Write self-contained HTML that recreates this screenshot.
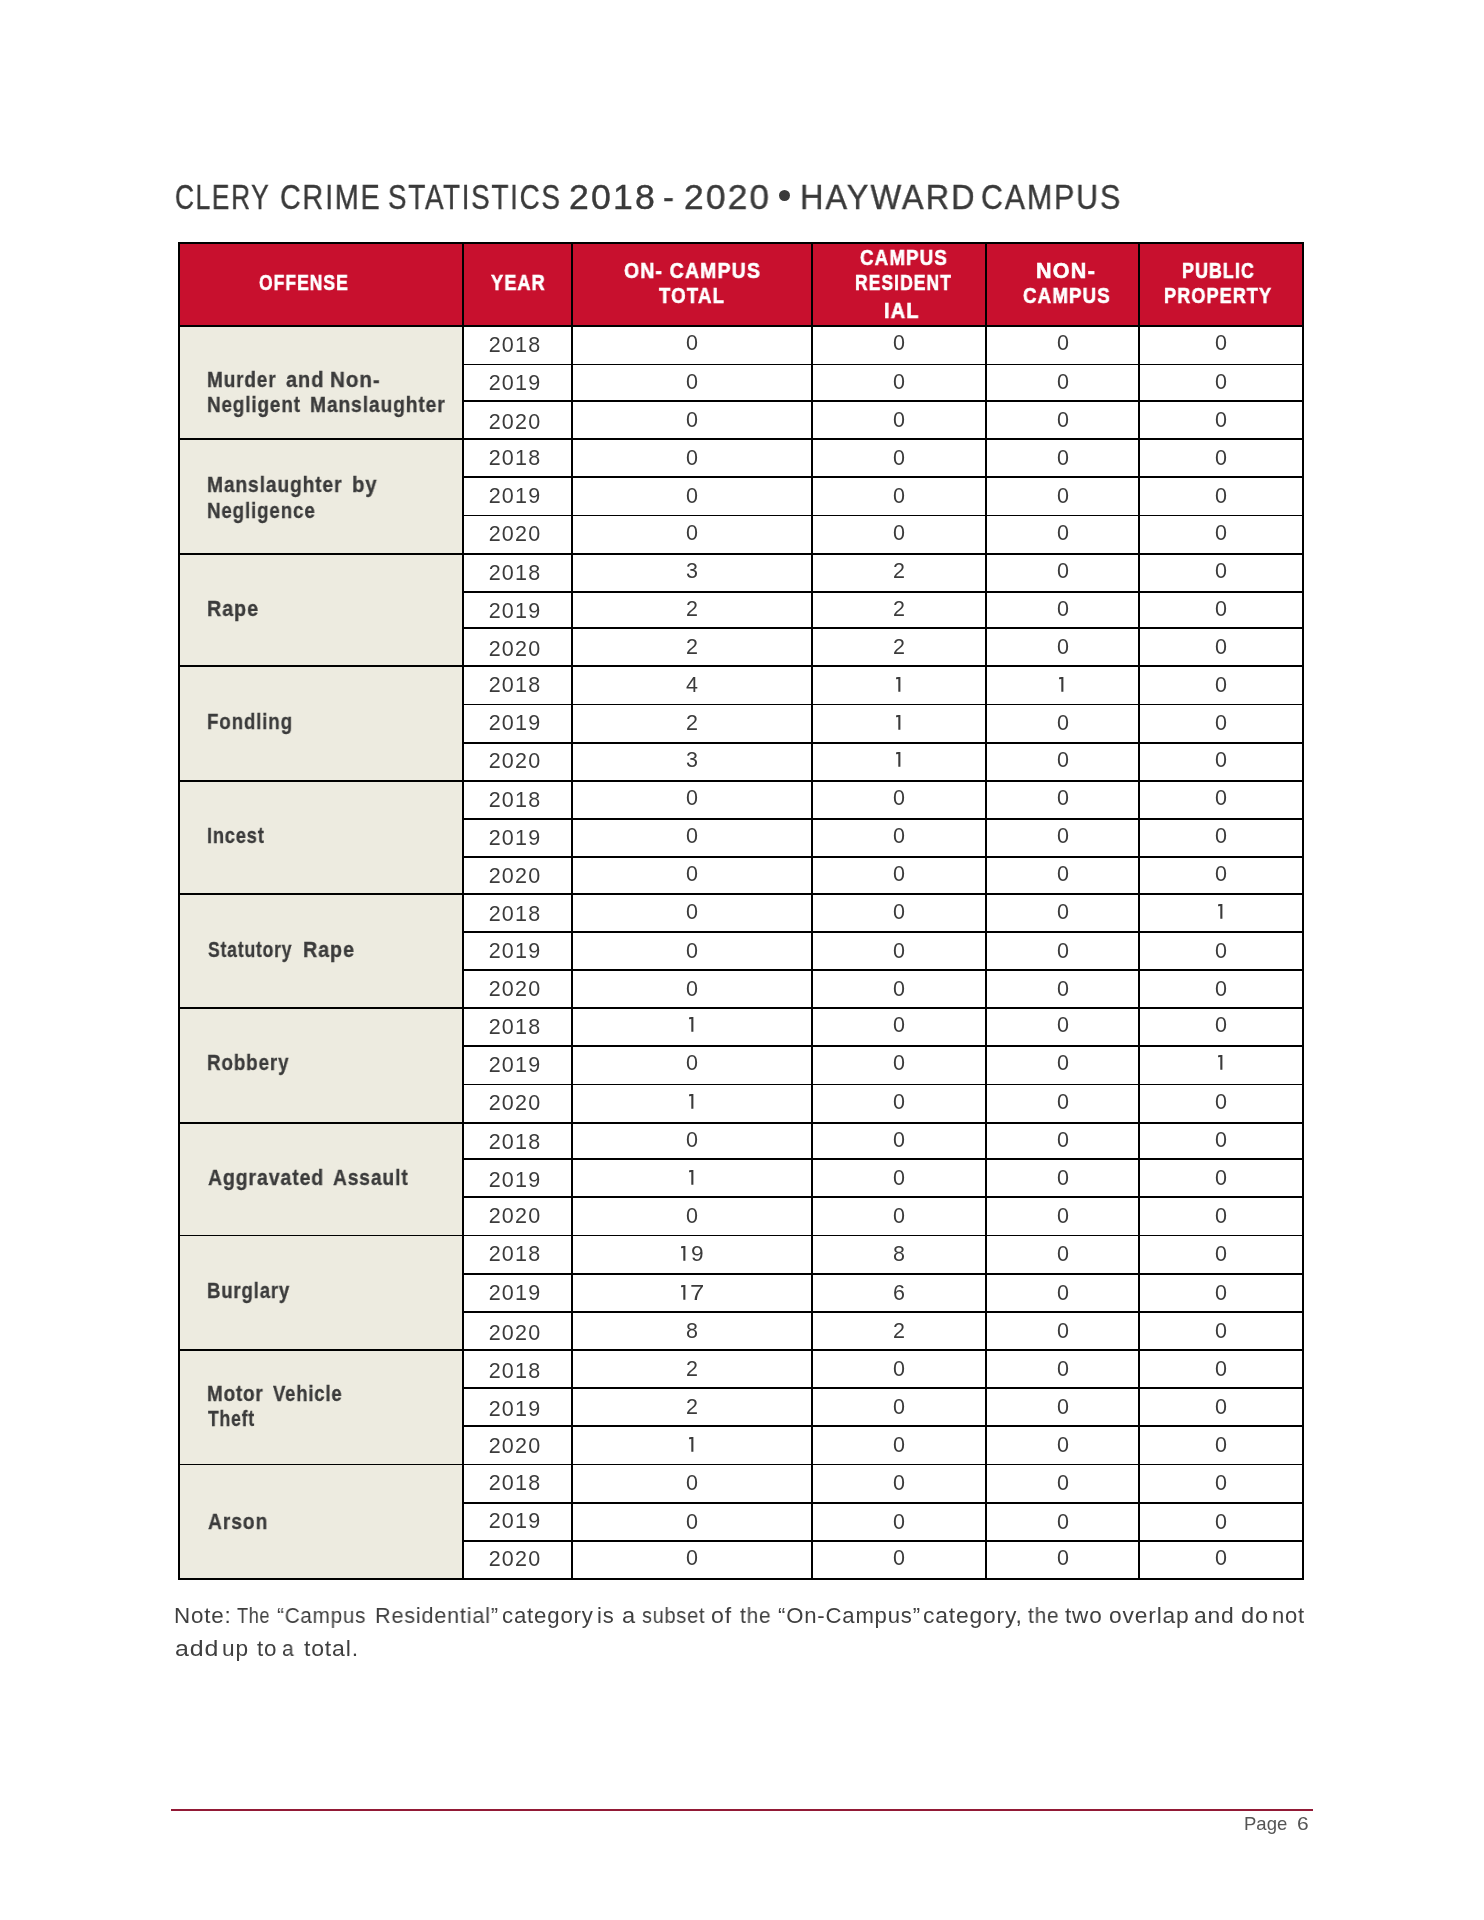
<!DOCTYPE html>
<html><head><meta charset="utf-8"><title>Clery Crime Statistics</title>
<style>
html,body{margin:0;padding:0;background:#fff}
body{width:1484px;height:1920px;position:relative;overflow:hidden;font-family:"Liberation Sans",sans-serif;color:#3b3b3b}
.a{position:absolute;white-space:nowrap;will-change:transform}
.b{position:absolute}
.h{position:absolute;white-space:nowrap;color:#fff;font-weight:bold;font-size:21.5px;line-height:21.5px}
.l{position:absolute;white-space:nowrap;font-weight:bold;font-size:21.8px;line-height:21.8px;left:207px}
.n{position:absolute;white-space:nowrap;will-change:transform;font-size:21.5px;line-height:21.5px;text-align:center;width:100px}
.k{position:absolute;background:#000}
</style></head><body>

<div class="b" style="left:778.6px;top:190.1px;width:11.6px;height:11.4px;border-radius:50%;background:#3a3a3a"></div>
<div class="a" style="left:174.98px;top:179.54px;font-size:35.50px;line-height:35.50px;transform:scaleX(0.7411);transform-origin:0 0;color:#3a3a3a;-webkit-text-stroke:0.4px #3a3a3a;letter-spacing:2.20px">CLERY</div>
<div class="a" style="left:279.56px;top:179.54px;font-size:35.50px;line-height:35.50px;transform:scaleX(0.8089);transform-origin:0 0;color:#3a3a3a;-webkit-text-stroke:0.4px #3a3a3a;letter-spacing:2.20px">CRIME</div>
<div class="a" style="left:388.05px;top:179.54px;font-size:35.50px;line-height:35.50px;transform:scaleX(0.7826);transform-origin:0 0;color:#3a3a3a;-webkit-text-stroke:0.4px #3a3a3a;letter-spacing:2.20px">STATISTICS</div>
<div class="a" style="left:569.42px;top:179.54px;font-size:35.50px;line-height:35.50px;transform:scaleX(1.0035);transform-origin:0 0;color:#3a3a3a;-webkit-text-stroke:0.4px #3a3a3a;letter-spacing:2.20px">2018</div>
<div class="a" style="left:662.83px;top:179.54px;font-size:35.50px;line-height:35.50px;transform:scaleX(0.9198);transform-origin:0 0;color:#3a3a3a;-webkit-text-stroke:0.4px #3a3a3a;letter-spacing:2.20px">-</div>
<div class="a" style="left:684.44px;top:179.54px;font-size:35.50px;line-height:35.50px;transform:scaleX(0.9940);transform-origin:0 0;color:#3a3a3a;-webkit-text-stroke:0.4px #3a3a3a;letter-spacing:2.20px">2020</div>
<div class="a" style="left:799.72px;top:179.54px;font-size:35.50px;line-height:35.50px;transform:scaleX(0.9157);transform-origin:0 0;color:#3a3a3a;-webkit-text-stroke:0.4px #3a3a3a;letter-spacing:2.20px">HAYWARD</div>
<div class="a" style="left:980.98px;top:179.54px;font-size:35.50px;line-height:35.50px;transform:scaleX(0.8548);transform-origin:0 0;color:#3a3a3a;-webkit-text-stroke:0.4px #3a3a3a;letter-spacing:2.20px">CAMPUS</div>
<div class="b" style="left:180px;top:244px;width:1122px;height:81px;background:#c8102e"></div>
<div class="b" style="left:180px;top:327px;width:282px;height:1251px;background:#edebe0"></div>
<div class="k" style="left:178px;top:242px;width:1126px;height:2px"></div>
<div class="k" style="left:178px;top:325px;width:1126px;height:2px"></div>
<div class="k" style="left:462px;top:364px;width:842px;height:1px"></div>
<div class="k" style="left:462px;top:400px;width:842px;height:2px"></div>
<div class="k" style="left:178px;top:438px;width:1126px;height:2px"></div>
<div class="k" style="left:462px;top:476px;width:842px;height:2px"></div>
<div class="k" style="left:462px;top:515px;width:842px;height:1px"></div>
<div class="k" style="left:178px;top:553px;width:1126px;height:2px"></div>
<div class="k" style="left:462px;top:591px;width:842px;height:2px"></div>
<div class="k" style="left:462px;top:627px;width:842px;height:2px"></div>
<div class="k" style="left:178px;top:665px;width:1126px;height:2px"></div>
<div class="k" style="left:462px;top:704px;width:842px;height:1px"></div>
<div class="k" style="left:462px;top:742px;width:842px;height:2px"></div>
<div class="k" style="left:178px;top:780px;width:1126px;height:2px"></div>
<div class="k" style="left:462px;top:818px;width:842px;height:2px"></div>
<div class="k" style="left:462px;top:856px;width:842px;height:2px"></div>
<div class="k" style="left:178px;top:893px;width:1126px;height:2px"></div>
<div class="k" style="left:462px;top:931px;width:842px;height:2px"></div>
<div class="k" style="left:462px;top:969px;width:842px;height:2px"></div>
<div class="k" style="left:178px;top:1007px;width:1126px;height:2px"></div>
<div class="k" style="left:462px;top:1045px;width:842px;height:2px"></div>
<div class="k" style="left:462px;top:1084px;width:842px;height:1px"></div>
<div class="k" style="left:178px;top:1122px;width:1126px;height:2px"></div>
<div class="k" style="left:462px;top:1158px;width:842px;height:2px"></div>
<div class="k" style="left:462px;top:1196px;width:842px;height:2px"></div>
<div class="k" style="left:178px;top:1235px;width:1126px;height:1px"></div>
<div class="k" style="left:462px;top:1273px;width:842px;height:2px"></div>
<div class="k" style="left:462px;top:1311px;width:842px;height:2px"></div>
<div class="k" style="left:178px;top:1349px;width:1126px;height:2px"></div>
<div class="k" style="left:462px;top:1387px;width:842px;height:2px"></div>
<div class="k" style="left:462px;top:1425px;width:842px;height:2px"></div>
<div class="k" style="left:178px;top:1464px;width:1126px;height:1px"></div>
<div class="k" style="left:462px;top:1502px;width:842px;height:2px"></div>
<div class="k" style="left:462px;top:1540px;width:842px;height:2px"></div>
<div class="k" style="left:178px;top:1578px;width:1126px;height:2px"></div>
<div class="k" style="left:178px;top:242px;width:2px;height:1338px"></div>
<div class="k" style="left:462px;top:242px;width:2px;height:1338px"></div>
<div class="k" style="left:571px;top:242px;width:2px;height:1338px"></div>
<div class="k" style="left:811px;top:242px;width:2px;height:1338px"></div>
<div class="k" style="left:985px;top:242px;width:2px;height:1338px"></div>
<div class="k" style="left:1138px;top:242px;width:2px;height:1338px"></div>
<div class="k" style="left:1302px;top:242px;width:2px;height:1338px"></div>
<div class="a" style="left:258.50px;top:272.60px;font-size:21.50px;line-height:21.50px;transform:scaleX(0.8122);transform-origin:0 0;font-weight:bold;color:#fff;-webkit-text-stroke:0.6px #fff;letter-spacing:1.30px">OFFENSE</div>
<div class="a" style="left:491.48px;top:273.40px;font-size:21.50px;line-height:21.50px;transform:scaleX(0.8445);transform-origin:0 0;font-weight:bold;color:#fff;-webkit-text-stroke:0.6px #fff;letter-spacing:1.30px">YEAR</div>
<div class="a" style="left:624.07px;top:261.30px;font-size:21.50px;line-height:21.50px;transform:scaleX(0.9041);transform-origin:0 0;font-weight:bold;color:#fff;-webkit-text-stroke:0.6px #fff;letter-spacing:1.30px">ON- CAMPUS</div>
<div class="a" style="left:659.46px;top:285.90px;font-size:21.50px;line-height:21.50px;transform:scaleX(0.8662);transform-origin:0 0;font-weight:bold;color:#fff;-webkit-text-stroke:0.6px #fff;letter-spacing:1.30px">TOTAL</div>
<div class="a" style="left:860.45px;top:248.30px;font-size:21.50px;line-height:21.50px;transform:scaleX(0.8716);transform-origin:0 0;font-weight:bold;color:#fff;-webkit-text-stroke:0.6px #fff;letter-spacing:1.30px">CAMPUS</div>
<div class="a" style="left:854.57px;top:273.10px;font-size:21.50px;line-height:21.50px;transform:scaleX(0.8138);transform-origin:0 0;font-weight:bold;color:#fff;-webkit-text-stroke:0.6px #fff;letter-spacing:1.30px">RESIDENT</div>
<div class="a" style="left:884.35px;top:301.30px;font-size:21.50px;line-height:21.50px;transform:scaleX(0.9283);transform-origin:0 0;font-weight:bold;color:#fff;-webkit-text-stroke:0.6px #fff;letter-spacing:1.30px">IAL</div>
<div class="a" style="left:1036.11px;top:261.00px;font-size:21.50px;line-height:21.50px;transform:scaleX(0.9925);transform-origin:0 0;font-weight:bold;color:#fff;-webkit-text-stroke:0.6px #fff;letter-spacing:1.30px">NON-</div>
<div class="a" style="left:1022.60px;top:286.20px;font-size:21.50px;line-height:21.50px;transform:scaleX(0.8706);transform-origin:0 0;font-weight:bold;color:#fff;-webkit-text-stroke:0.6px #fff;letter-spacing:1.30px">CAMPUS</div>
<div class="a" style="left:1181.75px;top:261.10px;font-size:21.50px;line-height:21.50px;transform:scaleX(0.8297);transform-origin:0 0;font-weight:bold;color:#fff;-webkit-text-stroke:0.6px #fff;letter-spacing:1.30px">PUBLIC</div>
<div class="a" style="left:1163.58px;top:286.10px;font-size:21.50px;line-height:21.50px;transform:scaleX(0.8409);transform-origin:0 0;font-weight:bold;color:#fff;-webkit-text-stroke:0.6px #fff;letter-spacing:1.30px">PROPERTY</div>
<div class="a" style="left:206.82px;top:368.54px;font-size:21.80px;line-height:21.80px;transform:scaleX(0.8690);transform-origin:0 0;font-weight:bold;-webkit-text-stroke:0.3px #3b3b3b;letter-spacing:1.00px">Murder</div>
<div class="a" style="left:285.60px;top:368.54px;font-size:21.80px;line-height:21.80px;transform:scaleX(0.9178);transform-origin:0 0;font-weight:bold;-webkit-text-stroke:0.3px #3b3b3b;letter-spacing:1.00px">and</div>
<div class="a" style="left:329.81px;top:368.54px;font-size:21.80px;line-height:21.80px;transform:scaleX(0.9462);transform-origin:0 0;font-weight:bold;-webkit-text-stroke:0.3px #3b3b3b;letter-spacing:1.00px">Non-</div>
<div class="a" style="left:206.82px;top:393.84px;font-size:21.80px;line-height:21.80px;transform:scaleX(0.8668);transform-origin:0 0;font-weight:bold;-webkit-text-stroke:0.3px #3b3b3b;letter-spacing:1.00px">Negligent</div>
<div class="a" style="left:310.00px;top:393.84px;font-size:21.80px;line-height:21.80px;transform:scaleX(0.8824);transform-origin:0 0;font-weight:bold;-webkit-text-stroke:0.3px #3b3b3b;letter-spacing:1.00px">Manslaughter</div>
<div class="a" style="left:206.80px;top:473.74px;font-size:21.80px;line-height:21.80px;transform:scaleX(0.8811);transform-origin:0 0;font-weight:bold;-webkit-text-stroke:0.3px #3b3b3b;letter-spacing:1.00px">Manslaughter</div>
<div class="a" style="left:352.48px;top:473.74px;font-size:21.80px;line-height:21.80px;transform:scaleX(0.9328);transform-origin:0 0;font-weight:bold;-webkit-text-stroke:0.3px #3b3b3b;letter-spacing:1.00px">by</div>
<div class="a" style="left:206.93px;top:499.54px;font-size:21.80px;line-height:21.80px;transform:scaleX(0.8601);transform-origin:0 0;font-weight:bold;-webkit-text-stroke:0.3px #3b3b3b;letter-spacing:1.00px">Negligence</div>
<div class="a" style="left:206.87px;top:597.74px;font-size:21.80px;line-height:21.80px;transform:scaleX(0.9072);transform-origin:0 0;font-weight:bold;-webkit-text-stroke:0.3px #3b3b3b;letter-spacing:1.00px">Rape</div>
<div class="a" style="left:206.94px;top:711.04px;font-size:21.80px;line-height:21.80px;transform:scaleX(0.8595);transform-origin:0 0;font-weight:bold;-webkit-text-stroke:0.3px #3b3b3b;letter-spacing:1.00px">Fondling</div>
<div class="a" style="left:206.97px;top:824.74px;font-size:21.80px;line-height:21.80px;transform:scaleX(0.8361);transform-origin:0 0;font-weight:bold;-webkit-text-stroke:0.3px #3b3b3b;letter-spacing:1.00px">Incest</div>
<div class="a" style="left:207.67px;top:939.34px;font-size:21.80px;line-height:21.80px;transform:scaleX(0.8058);transform-origin:0 0;font-weight:bold;-webkit-text-stroke:0.3px #3b3b3b;letter-spacing:1.00px">Statutory</div>
<div class="a" style="left:303.47px;top:939.34px;font-size:21.80px;line-height:21.80px;transform:scaleX(0.9054);transform-origin:0 0;font-weight:bold;-webkit-text-stroke:0.3px #3b3b3b;letter-spacing:1.00px">Rape</div>
<div class="a" style="left:206.93px;top:1051.74px;font-size:21.80px;line-height:21.80px;transform:scaleX(0.8641);transform-origin:0 0;font-weight:bold;-webkit-text-stroke:0.3px #3b3b3b;letter-spacing:1.00px">Robbery</div>
<div class="a" style="left:208.31px;top:1166.74px;font-size:21.80px;line-height:21.80px;transform:scaleX(0.8941);transform-origin:0 0;font-weight:bold;-webkit-text-stroke:0.3px #3b3b3b;letter-spacing:1.00px">Aggravated</div>
<div class="a" style="left:333.12px;top:1166.74px;font-size:21.80px;line-height:21.80px;transform:scaleX(0.8816);transform-origin:0 0;font-weight:bold;-webkit-text-stroke:0.3px #3b3b3b;letter-spacing:1.00px">Assault</div>
<div class="a" style="left:206.95px;top:1279.54px;font-size:21.80px;line-height:21.80px;transform:scaleX(0.8509);transform-origin:0 0;font-weight:bold;-webkit-text-stroke:0.3px #3b3b3b;letter-spacing:1.00px">Burglary</div>
<div class="a" style="left:207.13px;top:1382.64px;font-size:21.80px;line-height:21.80px;transform:scaleX(0.8637);transform-origin:0 0;font-weight:bold;-webkit-text-stroke:0.3px #3b3b3b;letter-spacing:1.00px">Motor</div>
<div class="a" style="left:273.16px;top:1382.64px;font-size:21.80px;line-height:21.80px;transform:scaleX(0.8463);transform-origin:0 0;font-weight:bold;-webkit-text-stroke:0.3px #3b3b3b;letter-spacing:1.00px">Vehicle</div>
<div class="a" style="left:208.02px;top:1408.34px;font-size:21.80px;line-height:21.80px;transform:scaleX(0.8052);transform-origin:0 0;font-weight:bold;-webkit-text-stroke:0.3px #3b3b3b;letter-spacing:1.00px">Theft</div>
<div class="a" style="left:207.72px;top:1510.54px;font-size:21.80px;line-height:21.80px;transform:scaleX(0.8849);transform-origin:0 0;font-weight:bold;-webkit-text-stroke:0.3px #3b3b3b;letter-spacing:1.00px">Arson</div>
<div class="n" style="left:465.4px;top:335.0px;letter-spacing:1.2px">2018</div>
<div class="n" style="left:642.0px;top:332.5px">0</div>
<div class="n" style="left:849.2px;top:332.5px">0</div>
<div class="n" style="left:1012.7px;top:332.5px">0</div>
<div class="n" style="left:1171.0px;top:332.5px">0</div>
<div class="n" style="left:465.4px;top:372.7px;letter-spacing:1.2px">2019</div>
<div class="n" style="left:642.0px;top:371.7px">0</div>
<div class="n" style="left:849.2px;top:371.7px">0</div>
<div class="n" style="left:1012.7px;top:371.7px">0</div>
<div class="n" style="left:1171.0px;top:371.7px">0</div>
<div class="n" style="left:465.4px;top:411.9px;letter-spacing:1.2px">2020</div>
<div class="n" style="left:642.0px;top:409.7px">0</div>
<div class="n" style="left:849.2px;top:409.7px">0</div>
<div class="n" style="left:1012.7px;top:409.7px">0</div>
<div class="n" style="left:1171.0px;top:409.7px">0</div>
<div class="n" style="left:465.4px;top:447.5px;letter-spacing:1.2px">2018</div>
<div class="n" style="left:642.0px;top:447.7px">0</div>
<div class="n" style="left:849.2px;top:447.7px">0</div>
<div class="n" style="left:1012.7px;top:447.7px">0</div>
<div class="n" style="left:1171.0px;top:447.7px">0</div>
<div class="n" style="left:465.4px;top:485.8px;letter-spacing:1.2px">2019</div>
<div class="n" style="left:642.0px;top:485.7px">0</div>
<div class="n" style="left:849.2px;top:485.7px">0</div>
<div class="n" style="left:1012.7px;top:485.7px">0</div>
<div class="n" style="left:1171.0px;top:485.7px">0</div>
<div class="n" style="left:465.4px;top:524.1px;letter-spacing:1.2px">2020</div>
<div class="n" style="left:642.0px;top:522.8px">0</div>
<div class="n" style="left:849.2px;top:522.8px">0</div>
<div class="n" style="left:1012.7px;top:522.8px">0</div>
<div class="n" style="left:1171.0px;top:522.8px">0</div>
<div class="n" style="left:465.4px;top:562.9px;letter-spacing:1.2px">2018</div>
<div class="n" style="left:642.0px;top:560.5px">3</div>
<div class="n" style="left:849.2px;top:560.5px">2</div>
<div class="n" style="left:1012.7px;top:560.5px">0</div>
<div class="n" style="left:1171.0px;top:560.5px">0</div>
<div class="n" style="left:465.4px;top:600.7px;letter-spacing:1.2px">2019</div>
<div class="n" style="left:642.0px;top:598.5px">2</div>
<div class="n" style="left:849.2px;top:598.5px">2</div>
<div class="n" style="left:1012.7px;top:598.5px">0</div>
<div class="n" style="left:1171.0px;top:598.5px">0</div>
<div class="n" style="left:465.4px;top:638.7px;letter-spacing:1.2px">2020</div>
<div class="n" style="left:642.0px;top:636.5px">2</div>
<div class="n" style="left:849.2px;top:636.5px">2</div>
<div class="n" style="left:1012.7px;top:636.5px">0</div>
<div class="n" style="left:1171.0px;top:636.5px">0</div>
<div class="n" style="left:465.4px;top:674.9px;letter-spacing:1.2px">2018</div>
<div class="n" style="left:642.0px;top:674.6px">4</div>
<svg class="b" style="left:895.90px;top:677.00px;overflow:visible" width="6" height="17" viewBox="0 0 6 17"><path fill="#3b3b3b" d="M2.30 0 H4.40 V14.80 H2.30 V2.0 L0 2.3 L0.2 0.35 Z"/></svg>
<svg class="b" style="left:1059.40px;top:677.00px;overflow:visible" width="6" height="17" viewBox="0 0 6 17"><path fill="#3b3b3b" d="M2.30 0 H4.40 V14.80 H2.30 V2.0 L0 2.3 L0.2 0.35 Z"/></svg>
<div class="n" style="left:1171.0px;top:674.6px">0</div>
<div class="n" style="left:465.4px;top:712.6px;letter-spacing:1.2px">2019</div>
<div class="n" style="left:642.0px;top:712.6px">2</div>
<svg class="b" style="left:895.90px;top:715.00px;overflow:visible" width="6" height="17" viewBox="0 0 6 17"><path fill="#3b3b3b" d="M2.30 0 H4.40 V14.80 H2.30 V2.0 L0 2.3 L0.2 0.35 Z"/></svg>
<div class="n" style="left:1012.7px;top:712.6px">0</div>
<div class="n" style="left:1171.0px;top:712.6px">0</div>
<div class="n" style="left:465.4px;top:751.4px;letter-spacing:1.2px">2020</div>
<div class="n" style="left:642.0px;top:749.7px">3</div>
<svg class="b" style="left:895.90px;top:752.10px;overflow:visible" width="6" height="17" viewBox="0 0 6 17"><path fill="#3b3b3b" d="M2.30 0 H4.40 V14.80 H2.30 V2.0 L0 2.3 L0.2 0.35 Z"/></svg>
<div class="n" style="left:1012.7px;top:749.7px">0</div>
<div class="n" style="left:1171.0px;top:749.7px">0</div>
<div class="n" style="left:465.4px;top:789.9px;letter-spacing:1.2px">2018</div>
<div class="n" style="left:642.0px;top:787.7px">0</div>
<div class="n" style="left:849.2px;top:787.7px">0</div>
<div class="n" style="left:1012.7px;top:787.7px">0</div>
<div class="n" style="left:1171.0px;top:787.7px">0</div>
<div class="n" style="left:465.4px;top:827.6px;letter-spacing:1.2px">2019</div>
<div class="n" style="left:642.0px;top:825.7px">0</div>
<div class="n" style="left:849.2px;top:825.7px">0</div>
<div class="n" style="left:1012.7px;top:825.7px">0</div>
<div class="n" style="left:1171.0px;top:825.7px">0</div>
<div class="n" style="left:465.4px;top:865.9px;letter-spacing:1.2px">2020</div>
<div class="n" style="left:642.0px;top:863.7px">0</div>
<div class="n" style="left:849.2px;top:863.7px">0</div>
<div class="n" style="left:1012.7px;top:863.7px">0</div>
<div class="n" style="left:1171.0px;top:863.7px">0</div>
<div class="n" style="left:465.4px;top:903.8px;letter-spacing:1.2px">2018</div>
<div class="n" style="left:642.0px;top:901.7px">0</div>
<div class="n" style="left:849.2px;top:901.7px">0</div>
<div class="n" style="left:1012.7px;top:901.7px">0</div>
<svg class="b" style="left:1217.70px;top:904.10px;overflow:visible" width="6" height="17" viewBox="0 0 6 17"><path fill="#3b3b3b" d="M2.30 0 H4.40 V14.80 H2.30 V2.0 L0 2.3 L0.2 0.35 Z"/></svg>
<div class="n" style="left:465.4px;top:941.0px;letter-spacing:1.2px">2019</div>
<div class="n" style="left:642.0px;top:940.8px">0</div>
<div class="n" style="left:849.2px;top:940.8px">0</div>
<div class="n" style="left:1012.7px;top:940.8px">0</div>
<div class="n" style="left:1171.0px;top:940.8px">0</div>
<div class="n" style="left:465.4px;top:978.7px;letter-spacing:1.2px">2020</div>
<div class="n" style="left:642.0px;top:978.8px">0</div>
<div class="n" style="left:849.2px;top:978.8px">0</div>
<div class="n" style="left:1012.7px;top:978.8px">0</div>
<div class="n" style="left:1171.0px;top:978.8px">0</div>
<div class="n" style="left:465.4px;top:1016.8px;letter-spacing:1.2px">2018</div>
<svg class="b" style="left:688.70px;top:1017.20px;overflow:visible" width="6" height="17" viewBox="0 0 6 17"><path fill="#3b3b3b" d="M2.30 0 H4.40 V14.80 H2.30 V2.0 L0 2.3 L0.2 0.35 Z"/></svg>
<div class="n" style="left:849.2px;top:1014.8px">0</div>
<div class="n" style="left:1012.7px;top:1014.8px">0</div>
<div class="n" style="left:1171.0px;top:1014.8px">0</div>
<div class="n" style="left:465.4px;top:1054.7px;letter-spacing:1.2px">2019</div>
<div class="n" style="left:642.0px;top:1052.5px">0</div>
<div class="n" style="left:849.2px;top:1052.5px">0</div>
<div class="n" style="left:1012.7px;top:1052.5px">0</div>
<svg class="b" style="left:1217.70px;top:1054.90px;overflow:visible" width="6" height="17" viewBox="0 0 6 17"><path fill="#3b3b3b" d="M2.30 0 H4.40 V14.80 H2.30 V2.0 L0 2.3 L0.2 0.35 Z"/></svg>
<div class="n" style="left:465.4px;top:1092.7px;letter-spacing:1.2px">2020</div>
<svg class="b" style="left:688.70px;top:1094.40px;overflow:visible" width="6" height="17" viewBox="0 0 6 17"><path fill="#3b3b3b" d="M2.30 0 H4.40 V14.80 H2.30 V2.0 L0 2.3 L0.2 0.35 Z"/></svg>
<div class="n" style="left:849.2px;top:1092.0px">0</div>
<div class="n" style="left:1012.7px;top:1092.0px">0</div>
<div class="n" style="left:1171.0px;top:1092.0px">0</div>
<div class="n" style="left:465.4px;top:1131.8px;letter-spacing:1.2px">2018</div>
<div class="n" style="left:642.0px;top:1129.7px">0</div>
<div class="n" style="left:849.2px;top:1129.7px">0</div>
<div class="n" style="left:1012.7px;top:1129.7px">0</div>
<div class="n" style="left:1171.0px;top:1129.7px">0</div>
<div class="n" style="left:465.4px;top:1169.7px;letter-spacing:1.2px">2019</div>
<svg class="b" style="left:688.70px;top:1170.40px;overflow:visible" width="6" height="17" viewBox="0 0 6 17"><path fill="#3b3b3b" d="M2.30 0 H4.40 V14.80 H2.30 V2.0 L0 2.3 L0.2 0.35 Z"/></svg>
<div class="n" style="left:849.2px;top:1168.0px">0</div>
<div class="n" style="left:1012.7px;top:1168.0px">0</div>
<div class="n" style="left:1171.0px;top:1168.0px">0</div>
<div class="n" style="left:465.4px;top:1205.9px;letter-spacing:1.2px">2020</div>
<div class="n" style="left:642.0px;top:1205.7px">0</div>
<div class="n" style="left:849.2px;top:1205.7px">0</div>
<div class="n" style="left:1012.7px;top:1205.7px">0</div>
<div class="n" style="left:1171.0px;top:1205.7px">0</div>
<div class="n" style="left:465.4px;top:1243.8px;letter-spacing:1.2px">2018</div>
<svg class="b" style="left:680.70px;top:1246.10px;overflow:visible" width="6" height="17" viewBox="0 0 6 17"><path fill="#3b3b3b" d="M2.30 0 H4.40 V14.80 H2.30 V2.0 L0 2.3 L0.2 0.35 Z"/></svg>
<div class="a" style="left:690.92px;top:1243.90px;font-size:21.50px;line-height:21.50px;transform:scaleX(1.0559);transform-origin:0 0;color:#3b3b3b">9</div>
<div class="n" style="left:849.2px;top:1243.7px">8</div>
<div class="n" style="left:1012.7px;top:1243.7px">0</div>
<div class="n" style="left:1171.0px;top:1243.7px">0</div>
<div class="n" style="left:465.4px;top:1282.6px;letter-spacing:1.2px">2019</div>
<svg class="b" style="left:680.70px;top:1285.00px;overflow:visible" width="6" height="17" viewBox="0 0 6 17"><path fill="#3b3b3b" d="M2.30 0 H4.40 V14.80 H2.30 V2.0 L0 2.3 L0.2 0.35 Z"/></svg>
<div class="a" style="left:689.81px;top:1282.80px;font-size:21.50px;line-height:21.50px;transform:scaleX(1.1960);transform-origin:0 0;color:#3b3b3b">7</div>
<div class="n" style="left:849.2px;top:1282.6px">6</div>
<div class="n" style="left:1012.7px;top:1282.6px">0</div>
<div class="n" style="left:1171.0px;top:1282.6px">0</div>
<div class="n" style="left:465.4px;top:1322.7px;letter-spacing:1.2px">2020</div>
<div class="n" style="left:642.0px;top:1320.6px">8</div>
<div class="n" style="left:849.2px;top:1320.6px">2</div>
<div class="n" style="left:1012.7px;top:1320.6px">0</div>
<div class="n" style="left:1171.0px;top:1320.6px">0</div>
<div class="n" style="left:465.4px;top:1360.7px;letter-spacing:1.2px">2018</div>
<div class="n" style="left:642.0px;top:1358.6px">2</div>
<div class="n" style="left:849.2px;top:1358.6px">0</div>
<div class="n" style="left:1012.7px;top:1358.6px">0</div>
<div class="n" style="left:1171.0px;top:1358.6px">0</div>
<div class="n" style="left:465.4px;top:1398.7px;letter-spacing:1.2px">2019</div>
<div class="n" style="left:642.0px;top:1396.6px">2</div>
<div class="n" style="left:849.2px;top:1396.6px">0</div>
<div class="n" style="left:1012.7px;top:1396.6px">0</div>
<div class="n" style="left:1171.0px;top:1396.6px">0</div>
<div class="n" style="left:465.4px;top:1436.4px;letter-spacing:1.2px">2020</div>
<svg class="b" style="left:688.70px;top:1437.30px;overflow:visible" width="6" height="17" viewBox="0 0 6 17"><path fill="#3b3b3b" d="M2.30 0 H4.40 V14.80 H2.30 V2.0 L0 2.3 L0.2 0.35 Z"/></svg>
<div class="n" style="left:849.2px;top:1434.9px">0</div>
<div class="n" style="left:1012.7px;top:1434.9px">0</div>
<div class="n" style="left:1171.0px;top:1434.9px">0</div>
<div class="n" style="left:465.4px;top:1472.9px;letter-spacing:1.2px">2018</div>
<div class="n" style="left:642.0px;top:1472.6px">0</div>
<div class="n" style="left:849.2px;top:1472.6px">0</div>
<div class="n" style="left:1012.7px;top:1472.6px">0</div>
<div class="n" style="left:1171.0px;top:1472.6px">0</div>
<div class="n" style="left:465.4px;top:1511.4px;letter-spacing:1.2px">2019</div>
<div class="n" style="left:642.0px;top:1511.5px">0</div>
<div class="n" style="left:849.2px;top:1511.5px">0</div>
<div class="n" style="left:1012.7px;top:1511.5px">0</div>
<div class="n" style="left:1171.0px;top:1511.5px">0</div>
<div class="n" style="left:465.4px;top:1549.4px;letter-spacing:1.2px">2020</div>
<div class="n" style="left:642.0px;top:1547.7px">0</div>
<div class="n" style="left:849.2px;top:1547.7px">0</div>
<div class="n" style="left:1012.7px;top:1547.7px">0</div>
<div class="n" style="left:1171.0px;top:1547.7px">0</div>
<div class="a" style="left:173.85px;top:1605.37px;font-size:22.00px;line-height:22.00px;transform:scaleX(1.0176);transform-origin:0 0;color:#3f3f3f;letter-spacing:0.80px">Note:</div>
<div class="a" style="left:237.29px;top:1605.37px;font-size:22.00px;line-height:22.00px;transform:scaleX(0.8223);transform-origin:0 0;color:#3f3f3f;letter-spacing:0.80px">The</div>
<div class="a" style="left:277.32px;top:1605.37px;font-size:22.00px;line-height:22.00px;transform:scaleX(0.9408);transform-origin:0 0;color:#3f3f3f;letter-spacing:0.80px">“Campus</div>
<div class="a" style="left:375.41px;top:1605.37px;font-size:22.00px;line-height:22.00px;transform:scaleX(0.9839);transform-origin:0 0;color:#3f3f3f;letter-spacing:0.80px">Residential”</div>
<div class="a" style="left:501.76px;top:1605.37px;font-size:22.00px;line-height:22.00px;transform:scaleX(1.0103);transform-origin:0 0;color:#3f3f3f;letter-spacing:0.80px">category</div>
<div class="a" style="left:597.25px;top:1605.37px;font-size:22.00px;line-height:22.00px;transform:scaleX(0.9765);transform-origin:0 0;color:#3f3f3f;letter-spacing:0.80px">is</div>
<div class="a" style="left:621.89px;top:1605.37px;font-size:22.00px;line-height:22.00px;transform:scaleX(1.0768);transform-origin:0 0;color:#3f3f3f;letter-spacing:0.80px">a</div>
<div class="a" style="left:641.55px;top:1605.37px;font-size:22.00px;line-height:22.00px;transform:scaleX(0.9071);transform-origin:0 0;color:#3f3f3f;letter-spacing:0.80px">subset</div>
<div class="a" style="left:710.92px;top:1605.37px;font-size:22.00px;line-height:22.00px;transform:scaleX(1.0529);transform-origin:0 0;color:#3f3f3f;letter-spacing:0.80px">of</div>
<div class="a" style="left:739.89px;top:1605.37px;font-size:22.00px;line-height:22.00px;transform:scaleX(0.9478);transform-origin:0 0;color:#3f3f3f;letter-spacing:0.80px">the</div>
<div class="a" style="left:777.77px;top:1605.37px;font-size:22.00px;line-height:22.00px;transform:scaleX(1.0059);transform-origin:0 0;color:#3f3f3f;letter-spacing:0.80px">“On-Campus”</div>
<div class="a" style="left:923.23px;top:1605.37px;font-size:22.00px;line-height:22.00px;transform:scaleX(1.0383);transform-origin:0 0;color:#3f3f3f;letter-spacing:0.80px">category,</div>
<div class="a" style="left:1027.89px;top:1605.37px;font-size:22.00px;line-height:22.00px;transform:scaleX(0.9478);transform-origin:0 0;color:#3f3f3f;letter-spacing:0.80px">the</div>
<div class="a" style="left:1065.26px;top:1605.37px;font-size:22.00px;line-height:22.00px;transform:scaleX(1.0231);transform-origin:0 0;color:#3f3f3f;letter-spacing:0.80px">two</div>
<div class="a" style="left:1109.13px;top:1605.37px;font-size:22.00px;line-height:22.00px;transform:scaleX(1.0361);transform-origin:0 0;color:#3f3f3f;letter-spacing:0.80px">overlap</div>
<div class="a" style="left:1194.03px;top:1605.37px;font-size:22.00px;line-height:22.00px;transform:scaleX(1.0396);transform-origin:0 0;color:#3f3f3f;letter-spacing:0.80px">and</div>
<div class="a" style="left:1241.49px;top:1605.37px;font-size:22.00px;line-height:22.00px;transform:scaleX(1.0767);transform-origin:0 0;color:#3f3f3f;letter-spacing:0.80px">do</div>
<div class="a" style="left:1272.33px;top:1605.37px;font-size:22.00px;line-height:22.00px;transform:scaleX(0.9925);transform-origin:0 0;color:#3f3f3f;letter-spacing:0.80px">not</div>
<div class="a" style="left:174.64px;top:1638.07px;font-size:22.00px;line-height:22.00px;transform:scaleX(1.1341);transform-origin:0 0;color:#3f3f3f;letter-spacing:0.80px">add</div>
<div class="a" style="left:222.43px;top:1638.07px;font-size:22.00px;line-height:22.00px;transform:scaleX(1.0301);transform-origin:0 0;color:#3f3f3f;letter-spacing:0.80px">up</div>
<div class="a" style="left:256.56px;top:1638.07px;font-size:22.00px;line-height:22.00px;transform:scaleX(1.0165);transform-origin:0 0;color:#3f3f3f;letter-spacing:0.80px">to</div>
<div class="a" style="left:282.31px;top:1638.07px;font-size:22.00px;line-height:22.00px;transform:scaleX(0.9532);transform-origin:0 0;color:#3f3f3f;letter-spacing:0.80px">a</div>
<div class="a" style="left:303.76px;top:1638.07px;font-size:22.00px;line-height:22.00px;transform:scaleX(1.0451);transform-origin:0 0;color:#3f3f3f;letter-spacing:0.80px">total.</div>
<div class="b" style="left:171px;top:1809px;width:1142px;height:2px;background:#921a36"></div>
<div class="a" style="left:1244.47px;top:1814.54px;font-size:18.50px;line-height:18.50px;transform:scaleX(1.0004);transform-origin:0 0;color:#555">Page</div>
<div class="a" style="left:1296.85px;top:1814.54px;font-size:18.50px;line-height:18.50px;transform:scaleX(1.1337);transform-origin:0 0;color:#555">6</div>
</body></html>
